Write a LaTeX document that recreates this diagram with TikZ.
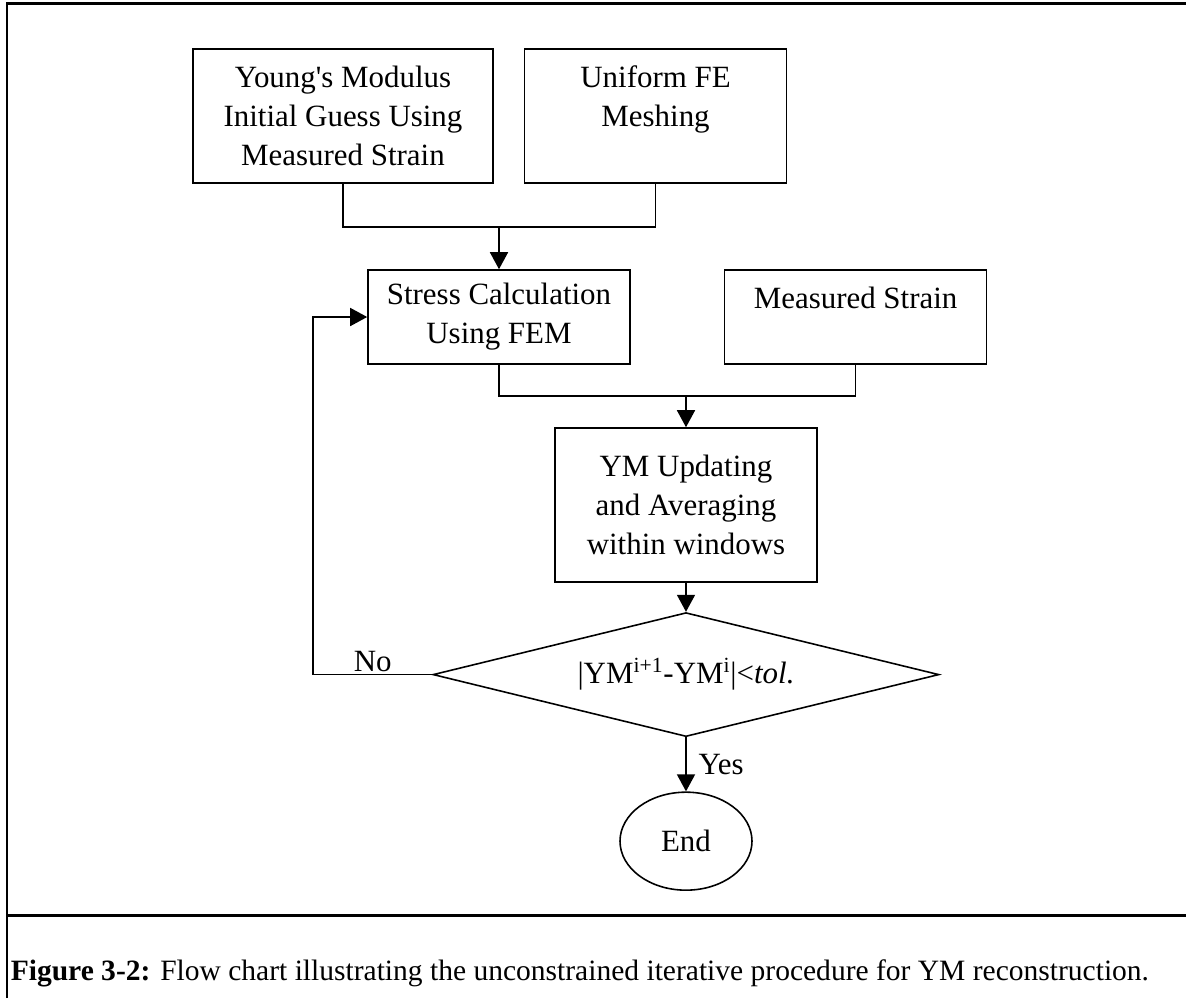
\documentclass[tikz,border=0pt]{standalone}
\usepackage{fontspec}
\setmainfont{Liberation Serif}
\usetikzlibrary{positioning,shapes.geometric,arrows.meta}

\begin{document}
\begin{tikzpicture}[font=\fontsize{17.6}{22.2}\selectfont,line width=0.9pt,
  box/.style={draw,align=center,minimum width=5.24cm,minimum height=1.88cm},
  arr/.style={-{Triangle[width=0.36cm,length=0.34cm]}}]
  \useasboundingbox (0,0) rectangle (23.72,-19.96);
  % frame and caption
  \draw[line width=1.7pt] (0.14,-19.96) -- (0.14,-0.06) -- (23.72,-0.06);
  \draw[line width=1.7pt] (0.14,-18.3) -- (23.72,-18.3);
  \node[anchor=base west,inner sep=0pt,font=\fontsize{16.8}{20}\selectfont] (cap) at (0.2,-19.6) {\textbf{Figure 3-2:} Flow chart illustrating the unconstrained iterative procedure for YM reconstruction.};
  % boxes
  \node[box,minimum width=6cm,minimum height=2.68cm] (young) at (6.86,-2.32) {Young\textquotesingle s Modulus\\Initial Guess Using\\Measured Strain};
  \node[box,minimum height=2.68cm,right=0.6cm of young] (fe) {Uniform FE\\Meshing\\\phantom{M}};
  \node[box] (stress) at (9.98,-6.34) {Stress Calculation\\Using FEM};
  \node[box,right=1.86cm of stress] (meas) {Measured Strain\\\phantom{M}};
  \node[box,minimum height=3.08cm] (ym) at (13.72,-10.1) {YM Updating\\and Averaging\\within windows};
  \node[diamond,draw,aspect=4,inner sep=0pt,minimum width=10.12cm,minimum height=2.48cm,below=0.58cm of ym] (check) {|YM\textsuperscript{i+1}-YM\textsuperscript{i}|<\textit{tol.}};
  \node[ellipse,draw,minimum width=2.64cm,minimum height=1.96cm,below=1.08cm of check] (stop) {End};
  % junctions
  \coordinate (j1) at (9.98,-4.54);
  \coordinate (j2) at (13.72,-7.92);
  \draw (young.south) |- (j1) -| (fe.south);
  \draw[arr] (j1) -- (stress.north);
  \draw (stress.south) |- (j2) -| (meas.south);
  \draw[arr] (j2) -- (ym.north);
  \draw[arr] (ym) -- (check);
  \draw[arr] (check.west) -- ++(-2.38,0) node[midway,above,inner sep=1pt]{No} |- (stress.west);
  \draw[arr] (check.south) -- node[right,xshift=0.12cm]{Yes} (stop.north);
\end{tikzpicture}
\end{document}
